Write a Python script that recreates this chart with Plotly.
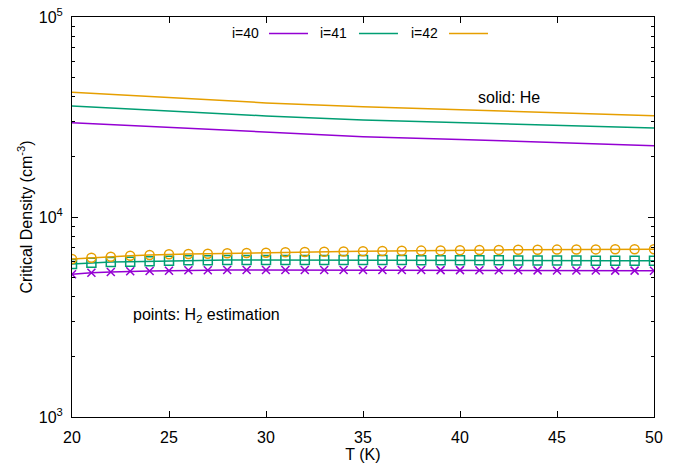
import plotly.graph_objects as go

# Solid lines: He collisional critical density
T_he = [20, 25, 30, 35, 40, 45, 50]
he_40 = [29610, 28020, 26490, 25210, 24410, 23550, 22730]
he_41 = [35890, 33880, 32030, 30550, 29650, 28640, 27860]
he_42 = [42030, 39450, 37200, 35560, 34280, 33040, 32100]

# Points: H2 estimation
T_h2 = list(range(20, 51))
h2_40 = [5171, 5267, 5309, 5352, 5370, 5388, 5414, 5414, 5433, 5433,
         5433, 5433, 5433, 5433, 5433, 5433, 5433, 5433, 5433, 5425,
         5425, 5420, 5414, 5414, 5410, 5405, 5402, 5400, 5395, 5392, 5388]
h2_41 = [5821, 5909, 5957, 5978, 6005, 6047, 6075, 6075, 6095, 6095,
         6095, 6095, 6095, 6095, 6095, 6095, 6095, 6090, 6085, 6080,
         6075, 6075, 6070, 6068, 6065, 6061, 6055, 6050, 6045, 6040, 6035]
h2_42 = [6166, 6259, 6331, 6404, 6457, 6509, 6531, 6554, 6584, 6607,
         6630, 6661, 6683, 6699, 6722, 6738, 6761, 6776, 6792, 6808,
         6823, 6839, 6847, 6855, 6863, 6871, 6879, 6887, 6895, 6902, 6902]

labels = ["i=40", "i=41", "i=42"]
colors = ["#9400D3", "#009E73", "#E69F00"]
symbols = ["x-thin-open", "square-open", "circle-open"]
msizes = [8, 9, 9]

xticks = [20, 25, 30, 35, 40, 45, 50]
yticks = [1e3, 1e4, 1e5]
yticktext = ["10<sup>3</sup>", "10<sup>4</sup>", "10<sup>5</sup>"]
yminor = [m * 10 ** e for e in (3, 4) for m in range(2, 10)]

FONT = "Liberation Sans, Arial, sans-serif"
FS = 16

fig = go.Figure()
for ys, c in zip([he_40, he_41, he_42], colors):
    fig.add_trace(go.Scatter(x=T_he, y=ys, mode="lines",
                             line=dict(color=c, width=1.5), showlegend=False))
for ys, c, s, ms in zip([h2_40, h2_41, h2_42], colors, symbols, msizes):
    fig.add_trace(go.Scatter(x=T_h2, y=ys, mode="lines+markers",
                             line=dict(color=c, width=1.5),
                             marker=dict(symbol=s, size=ms, color=c,
                                         line=dict(color=c, width=1.5)),
                             showlegend=False))

# gnuplot-style key: text then line sample
key_y = 0.959
key_text_x = [0.3247, 0.4759, 0.6323]
key_line = [(0.3385, 0.4055), (0.4931, 0.5601), (0.6478, 0.7148)]
for lab, c, tx, (x0, x1) in zip(labels, colors, key_text_x, key_line):
    fig.add_annotation(x=tx, y=key_y, xref="paper", yref="paper", text=lab,
                       showarrow=False, xanchor="right", yanchor="middle",
                       font=dict(family=FONT, size=14, color="black"))
    fig.add_shape(type="line", xref="paper", yref="paper", x0=x0, x1=x1,
                  y0=key_y, y1=key_y, line=dict(color=c, width=1.5))

fig.add_annotation(x=0.751, y=0.799, xref="paper", yref="paper",
                   text="solid: He", showarrow=False,
                   xanchor="center", yanchor="middle",
                   font=dict(family=FONT, size=FS, color="black"))
fig.add_annotation(x=0.231, y=0.255, xref="paper", yref="paper",
                   text="points: H<sub>2</sub> estimation", showarrow=False,
                   xanchor="center", yanchor="middle",
                   font=dict(family=FONT, size=FS, color="black"))

fig.update_xaxes(range=[20, 50], tickvals=xticks, ticks="inside", ticklen=6,
                 tickcolor="black", showline=True, linecolor="black",
                 linewidth=1, mirror="allticks", showgrid=False, zeroline=False,
                 automargin=False, ticklabelstandoff=6,
                 title=dict(text="T (K)", font=dict(family=FONT, size=FS), standoff=0),
                 tickfont=dict(family=FONT, size=FS, color="black"))
fig.update_yaxes(type="log", range=[3, 5], tickvals=yticks, ticktext=yticktext,
                 ticks="inside", ticklen=6, tickcolor="black", showline=True,
                 linecolor="black", linewidth=1, mirror="allticks",
                 showgrid=False, zeroline=False,
                 automargin=False, ticklabelstandoff=5,
                 minor=dict(tickvals=yminor, ticks="inside", ticklen=3,
                            tickcolor="black", showgrid=False),
                 title=dict(text="Critical Density (cm<sup>-3</sup>)",
                            font=dict(family=FONT, size=FS), standoff=2),
                 tickfont=dict(family=FONT, size=FS, color="black"))

fig.update_layout(width=678, height=467, paper_bgcolor="white",
                  plot_bgcolor="white",
                  margin=dict(l=72, r=24, t=17, b=50),
                  font=dict(family=FONT, color="black"))

fig.write_html("out.html")
